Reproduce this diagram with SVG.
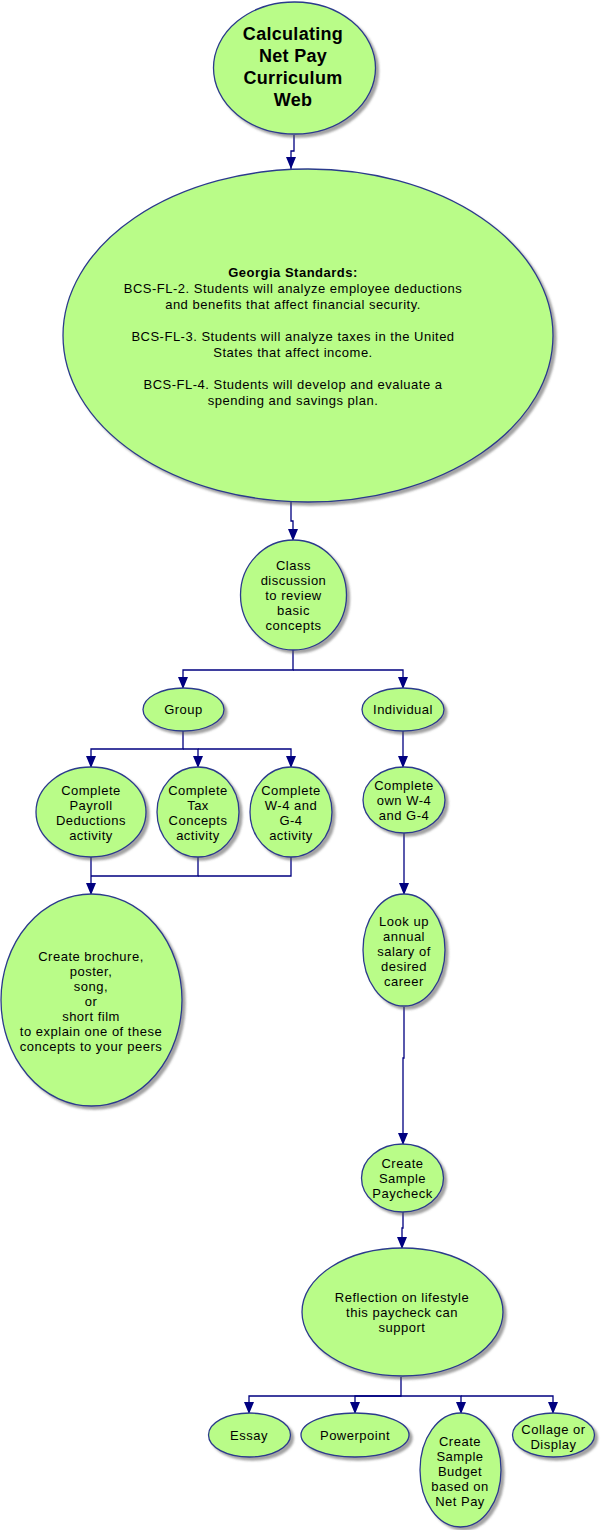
<svg xmlns="http://www.w3.org/2000/svg" width="601" height="1530" viewBox="0 0 601 1530">
<style>
.node{fill:#b9fc88;stroke:#2b3a8c;stroke-width:1.3;filter:url(#sh)}
.c{fill:none;stroke:#000080;stroke-width:1.3;marker-end:url(#ah)}
.cn{fill:none;stroke:#000080;stroke-width:1.3}
text{font-family:"Liberation Sans",Arial,sans-serif;font-size:13px;fill:#000;text-anchor:middle;letter-spacing:0.5px}
.t{font-size:18px;font-weight:bold;letter-spacing:0.3px}
.b{font-weight:bold}
</style>
<defs>
<filter id="sh" x="-10%" y="-10%" width="125%" height="125%">
<feDropShadow dx="3" dy="3" stdDeviation="1.2" flood-color="#555" flood-opacity="0.55"/>
</filter>
<marker id="ah" markerUnits="userSpaceOnUse" markerWidth="13" markerHeight="11" refX="12" refY="5" orient="auto">
<path d="M0,0 L12,5 L0,10 z" fill="#000080"/>
</marker>
</defs>
<rect width="601" height="1530" fill="#fff"/>
<g id="connectors">
<path class="c" d="M294,135 V151 H291 V169"/>
<path class="c" d="M291,502 V521 H293 V541"/>
<path class="c" d="M293,650 V670 H183 V689"/>
<path class="c" d="M293,670 H403 V689"/>
<path class="c" d="M183,731 V749 H91 V768"/>
<path class="c" d="M183,749 H198 V768"/>
<path class="c" d="M198,749 H291 V768"/>
<path class="c" d="M91,857 V895"/>
<path class="cn" d="M198,857 V876 H91"/>
<path class="cn" d="M291,857 V876 H198"/>
<path class="c" d="M403,731 V768"/>
<path class="c" d="M404,833 V895"/>
<path class="c" d="M404,1007 V1058 H403 V1145"/>
<path class="c" d="M403,1212 V1228 H402 V1249"/>
<path class="c" d="M401,1377 V1396 H249 V1414"/>
<path class="c" d="M401,1396 H355 V1414"/>
<path class="c" d="M401,1396 H461 V1414"/>
<path class="c" d="M461,1396 H553 V1414"/>
</g>
<g id="title">
<ellipse class="node" cx="294.5" cy="68" rx="81" ry="66"/>
<text class="t" x="293" y="40">Calculating</text>
<text class="t" x="293" y="62">Net Pay</text>
<text class="t" x="293" y="84">Curriculum</text>
<text class="t" x="293" y="106">Web</text>
</g>
<g id="standards">
<ellipse class="node" cx="308" cy="335.5" rx="245" ry="166.5"/>
<text class="b" x="293" y="277">Georgia Standards:</text>
<text x="293" y="293">BCS-FL-2. Students will analyze employee deductions</text>
<text x="293" y="309">and benefits that affect financial security.</text>
<text x="293" y="341">BCS-FL-3. Students will analyze taxes in the United</text>
<text x="293" y="357">States that affect income.</text>
<text x="293" y="389">BCS-FL-4. Students will develop and evaluate a</text>
<text x="293" y="405">spending and savings plan.</text>
</g>
<g id="class">
<ellipse class="node" cx="293.5" cy="595" rx="53" ry="55"/>
<text x="293.5" y="570">Class</text>
<text x="293.5" y="585">discussion</text>
<text x="293.5" y="600">to review</text>
<text x="293.5" y="615">basic</text>
<text x="293.5" y="630">concepts</text>
</g>
<g id="group">
<ellipse class="node" cx="183.5" cy="709.5" rx="40.5" ry="21.5"/>
<text x="183.5" y="714">Group</text>
</g>
<g id="individual">
<ellipse class="node" cx="403" cy="709.5" rx="41" ry="21.5"/>
<text x="403" y="714">Individual</text>
</g>
<g id="payroll">
<ellipse class="node" cx="91" cy="812" rx="55" ry="45"/>
<text x="91" y="794.5">Complete</text>
<text x="91" y="809.5">Payroll</text>
<text x="91" y="824.5">Deductions</text>
<text x="91" y="839.5">activity</text>
</g>
<g id="tax">
<ellipse class="node" cx="198" cy="812" rx="41" ry="45"/>
<text x="198" y="794.5">Complete</text>
<text x="198" y="809.5">Tax</text>
<text x="198" y="824.5">Concepts</text>
<text x="198" y="839.5">activity</text>
</g>
<g id="w4">
<ellipse class="node" cx="291" cy="812" rx="41" ry="45"/>
<text x="291" y="794.5">Complete</text>
<text x="291" y="809.5">W-4 and</text>
<text x="291" y="824.5">G-4</text>
<text x="291" y="839.5">activity</text>
</g>
<g id="brochure">
<ellipse class="node" cx="91.5" cy="1000" rx="90.5" ry="106"/>
<text x="91" y="960.5">Create brochure,</text>
<text x="91" y="975.5">poster,</text>
<text x="91" y="990.5">song,</text>
<text x="91" y="1005.5">or</text>
<text x="91" y="1020.5">short film</text>
<text x="91" y="1035.5">to explain one of these</text>
<text x="91" y="1050.5">concepts to your peers</text>
</g>
<g id="ownw4">
<ellipse class="node" cx="404" cy="800" rx="41" ry="33"/>
<text x="404" y="790">Complete</text>
<text x="404" y="805">own W-4</text>
<text x="404" y="820">and G-4</text>
</g>
<g id="lookup">
<ellipse class="node" cx="404" cy="950" rx="41" ry="56"/>
<text x="404" y="925.5">Look up</text>
<text x="404" y="940.5">annual</text>
<text x="404" y="955.5">salary of</text>
<text x="404" y="970.5">desired</text>
<text x="404" y="985.5">career</text>
</g>
<g id="paycheck">
<ellipse class="node" cx="402.5" cy="1178" rx="41" ry="34"/>
<text x="402.5" y="1167.5">Create</text>
<text x="402.5" y="1182.5">Sample</text>
<text x="402.5" y="1197.5">Paycheck</text>
</g>
<g id="reflection">
<ellipse class="node" cx="402.5" cy="1312" rx="100.5" ry="64"/>
<text x="402" y="1302">Reflection on lifestyle</text>
<text x="402" y="1317">this paycheck can</text>
<text x="402" y="1332">support</text>
</g>
<g id="essay">
<ellipse class="node" cx="249.5" cy="1435" rx="41" ry="22"/>
<text x="249" y="1440">Essay</text>
</g>
<g id="powerpoint">
<ellipse class="node" cx="355" cy="1435" rx="54" ry="22"/>
<text x="355" y="1439.5">Powerpoint</text>
</g>
<g id="budget">
<ellipse class="node" cx="460.5" cy="1470" rx="40.5" ry="57"/>
<text x="460" y="1445.5">Create</text>
<text x="460" y="1460.5">Sample</text>
<text x="460" y="1475.5">Budget</text>
<text x="460" y="1490.5">based on</text>
<text x="460" y="1505.5">Net Pay</text>
</g>
<g id="collage">
<ellipse class="node" cx="553.5" cy="1435" rx="41" ry="22"/>
<text x="553.5" y="1433.5">Collage or</text>
<text x="553.5" y="1448.5">Display</text>
</g>
</svg>
